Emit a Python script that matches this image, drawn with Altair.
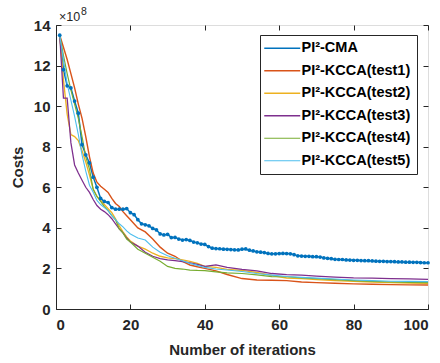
import altair as alt
import pandas as pd

# ---------------- data ----------------
names = ["PI²-CMA", "PI²-KCCA(test1)", "PI²-KCCA(test2)",
         "PI²-KCCA(test3)", "PI²-KCCA(test4)", "PI²-KCCA(test5)"]
colors = ["#0072BD", "#D95319", "#EDB120", "#7E2F8E", "#77AC30", "#4DBEEE"]

iters_cma = list(range(1, 101))
cma = [13.5, 11.8, 11.0, 10.9, 10.25, 9.65, 8.1, 7.6, 7.2, 6.5,
       6.0, 5.45, 5.3, 5.25, 5.0, 4.92, 4.92, 4.92, 4.95, 4.75,
       4.65, 4.4, 4.2, 4.15, 4.1, 3.97, 3.9, 3.7, 3.65, 3.68,
       3.52, 3.53, 3.45, 3.4, 3.42, 3.38, 3.3, 3.26, 3.2, 3.18,
       3.08, 3.0, 2.98, 2.97, 2.95, 2.94, 2.93, 2.92, 2.91, 2.95,
       2.96, 2.9, 2.86, 2.82, 2.8, 2.78, 2.74, 2.72, 2.72, 2.73,
       2.74, 2.73, 2.72, 2.68, 2.62, 2.61, 2.6, 2.6, 2.58, 2.58,
       2.56, 2.52, 2.5, 2.48, 2.45, 2.44, 2.44, 2.42, 2.41, 2.4,
       2.4, 2.39, 2.38, 2.38, 2.37, 2.36, 2.35, 2.35, 2.34, 2.34,
       2.33, 2.32, 2.32, 2.31, 2.31, 2.3, 2.3, 2.29, 2.28, 2.28]

iters_kcca = [1, 2, 3, 4, 5, 6, 7, 8, 9, 10, 11, 12, 13, 14, 15, 16, 17, 18, 19, 20,
              22, 24, 26, 28, 30, 32, 34, 36, 38, 40, 43, 46, 50, 54, 58, 62, 66, 70,
              75, 80, 85, 90, 95, 100]
test1 = [13.5, 12.9, 12.3, 11.6, 10.9, 10.1, 9.4, 8.5, 7.5, 6.7, 6.25, 6.05, 5.9, 5.75,
         5.45, 5.2, 5.05, 4.8, 4.6, 4.4, 4.0, 3.8, 3.45, 3.05, 2.75, 2.6, 2.35, 2.17,
         2.08, 2.0, 1.88, 1.7, 1.5, 1.43, 1.42, 1.4, 1.33, 1.3, 1.27, 1.24, 1.22, 1.2,
         1.19, 1.18]
test2 = [13.5, 11.3, 9.6, 8.6, 8.5, 8.3, 7.8, 7.25, 6.6, 5.9, 5.55, 5.35, 5.15, 4.95,
         4.75, 4.45, 4.1, 3.8, 3.55, 3.35, 3.1, 2.95, 2.75, 2.6, 2.52, 2.48, 2.42, 2.35,
         2.25, 2.1, 2.05, 1.95, 1.9, 1.8, 1.65, 1.53, 1.5, 1.45, 1.4, 1.36, 1.33, 1.3,
         1.28, 1.27]
test3 = [13.5, 10.4, 10.4, 8.2, 7.1, 6.7, 6.35, 6.0, 5.75, 5.4, 5.1, 4.92, 4.8, 4.65,
         4.45, 4.2, 3.95, 3.75, 3.5, 3.3, 3.1, 2.8, 2.6, 2.48, 2.42, 2.38, 2.33, 2.28,
         2.2, 2.1, 2.17, 2.05, 1.95, 1.88, 1.75, 1.7, 1.67, 1.62, 1.57, 1.53, 1.52, 1.5,
         1.48, 1.46]
test4 = [13.5, 12.5, 11.6, 10.8, 10.1, 9.4, 8.5, 7.5, 6.9, 5.9, 5.55, 5.3, 5.05, 4.85,
         4.6, 4.4, 3.95, 3.75, 3.45, 3.3, 2.95, 2.75, 2.55, 2.35, 2.1, 2.0, 1.97, 1.92,
         1.9, 1.89, 1.83, 1.78, 1.75, 1.68, 1.6, 1.59, 1.53, 1.5, 1.45, 1.4, 1.36, 1.33,
         1.31, 1.3]
test5 = [13.5, 12.3, 11.1, 10.3, 9.5, 8.6, 7.6, 6.8, 6.1, 5.75, 5.35, 5.15, 5.0, 4.85,
         4.6, 4.4, 4.2, 4.05, 3.85, 3.7, 3.5, 3.4, 3.05, 2.8, 2.62, 2.5, 2.38, 2.25,
         2.15, 2.05, 1.97, 1.92, 1.85, 1.75, 1.67, 1.6, 1.56, 1.52, 1.48, 1.43, 1.4, 1.37,
         1.36, 1.35]

x_ticks = [0, 20, 40, 60, 80, 100]
y_ticks = [0, 2, 4, 6, 8, 10, 12, 14]

# exponent label of the y axis, anchored at the top-left corner (x=0, y=14)
exp_anchor = {"it": [0], "cost": [14]}
exp_base = "×10"
exp_power = "8"

# ---------------- table ----------------
rows = []
for it, v in zip(iters_cma, cma):
    rows.append({"it": it, "cost": v, "series": names[0]})
for name, vals in zip(names[1:], [test1, test2, test3, test4, test5]):
    for it, v in zip(iters_kcca, vals):
        rows.append({"it": it, "cost": v, "series": name})
df = pd.DataFrame(rows)
df_cma = df[df["series"] == names[0]]
df_exp = pd.DataFrame(exp_anchor)

W, H = 372, 284
FONT = "Liberation Sans"
AX = "#262626"

xscale = alt.Scale(domain=[0, 100], nice=False)
yscale = alt.Scale(domain=[0, 14], nice=False)

color = alt.Color(
    "series:N",
    scale=alt.Scale(domain=names, range=colors),
    sort=names,
    legend=alt.Legend(
        orient="none", legendX=204, legendY=10, title=None,
        symbolType="M-1.5,0H4.5", symbolSize=144, symbolStrokeWidth=1.3,
        symbolOffset=0, labelOffset=21,
        labelFont=FONT, labelFontSize=14.5, labelFontWeight="bold", labelColor="#000000",
        fillColor="white", strokeColor=AX, padding=6,
        rowPadding=7.5, cornerRadius=0,
    ),
)
width_enc = alt.StrokeWidth(
    "series:N", scale=alt.Scale(domain=names, range=[1.5, 1.1, 1.1, 1.1, 1.1, 1.1]),
    legend=None,
)

main_x = alt.Axis(values=x_ticks, ticks=False, tickSize=0, labelPadding=8, grid=False,
                  domainColor=AX, labelColor=AX, titleColor=AX, labelFont=FONT,
                  labelFontSize=15, labelFontWeight="bold", titleFont=FONT,
                  titleFontSize=15, titleFontWeight="bold", titlePadding=10,
                  title="Number of iterations", orient="bottom")
main_y = alt.Axis(values=y_ticks, ticks=False, tickSize=0, labelPadding=6, grid=False,
                  domainColor=AX, labelColor=AX, titleColor=AX, labelFont=FONT,
                  labelFontSize=15, labelFontWeight="bold", titleFont=FONT,
                  titleFontSize=15, titleFontWeight="bold", titlePadding=8,
                  title="Costs", orient="left")

def tick_axis(vals, orient, offset):
    return alt.Axis(values=vals, orient=orient, offset=offset, labels=False, domain=False,
                    ticks=True, tickSize=5, tickColor=AX, tickWidth=1, grid=False, title=None)

lines = alt.Chart(df).mark_line(strokeCap="butt").encode(
    x=alt.X("it:Q", scale=xscale, axis=main_x),
    y=alt.Y("cost:Q", scale=yscale, axis=main_y),
    color=color,
    strokeWidth=width_enc,
)

pts = alt.Chart(df_cma).mark_point(filled=True, size=14, opacity=1, color=colors[0]).encode(
    x=alt.X("it:Q", scale=xscale, axis=tick_axis(x_ticks, "top", -H)),
    y=alt.Y("cost:Q", scale=yscale, axis=tick_axis(y_ticks, "right", -W)),
)

ghost = alt.Chart(df_cma).mark_point(opacity=0).encode(
    x=alt.X("it:Q", scale=xscale, axis=tick_axis(x_ticks, "bottom", -H)),
    y=alt.Y("cost:Q", scale=yscale, axis=tick_axis(y_ticks, "left", -W)),
)

exp_txt = alt.Chart(df_exp).mark_text(
    text=exp_base, align="left", baseline="alphabetic", dx=3, dy=-4.5,
    font=FONT, fontSize=12.5, color=AX,
).encode(
    x=alt.X("it:Q", scale=xscale, axis=None),
    y=alt.Y("cost:Q", scale=yscale, axis=None),
)
exp_pow = alt.Chart(df_exp).mark_text(
    text=exp_power, align="left", baseline="alphabetic", dx=25, dy=-10,
    font=FONT, fontSize=10.5, color=AX,
).encode(
    x=alt.X("it:Q", scale=xscale, axis=None),
    y=alt.Y("cost:Q", scale=yscale, axis=None),
)

chart = alt.layer(lines, pts, ghost, exp_txt, exp_pow).resolve_axis(
    x="independent", y="independent"
).properties(
    width=W, height=H,
    autosize=alt.AutoSizeParams(type="none"),
    padding={"left": 56, "top": 25, "right": 12, "bottom": 54},
).configure_view(stroke=AX, strokeWidth=1).configure(background="white")

chart.save("out.html", embed_options={"renderer": "svg", "actions": False})
